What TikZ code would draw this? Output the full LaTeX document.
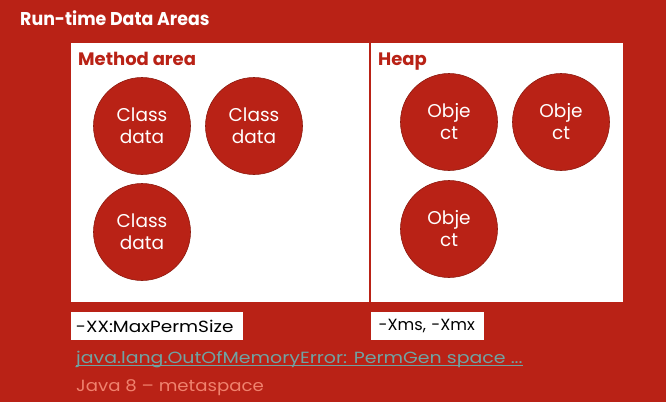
\documentclass[tikz,border=0pt]{standalone}
\usepackage{fontspec}
\setmainfont{Poppins}
\usepackage{tikz}
\definecolor{slidered}{HTML}{B92216}
\definecolor{ringred}{HTML}{8E1B10}
\definecolor{linkgray}{HTML}{6FA3A3}
\definecolor{salmon}{HTML}{F0826E}

\begin{document}
\begin{tikzpicture}[x=1pt, y=-1pt,
  area/.style={fill=white, anchor=north west, inner sep=0},
  blob/.style={circle, fill=slidered, draw=ringred, line width=0.6pt,
    minimum size=97, inner sep=0, text=white, align=center,
    font=\fontsize{18.5}{22}\selectfont},
  heading/.style={anchor=base west, inner sep=0, text=slidered,
    font=\fontsize{18}{22}\selectfont\bfseries},
  flag/.style={fill=white, anchor=north west, minimum height=28,
    inner ysep=0, align=left, font=\fontsize{16.2}{19}\selectfont},
  note/.style={anchor=base west, inner sep=0}]
% slide
\fill[slidered] (0,0) rectangle (666,402);
\useasboundingbox (0,0) rectangle (666,402);
\node[note, text=white, font=\fontsize{18.5}{22}\selectfont\bfseries\addfontfeatures{FakeStretch=0.94}]
      (title) at (20,25) {Run-time Data Areas};
% areas
\node[area, minimum width=298, minimum height=259] (method) at (71,43) {};
\node[area, minimum width=252, minimum height=259] (heap) at (371,43) {};
\node[heading] (methodlbl) at (78,65) {Method area};
\node[heading] (heaplbl) at (378,65) {Heap};
% class data
\node[blob] (cls1) at (142,126) {Class\\data};
\node[blob] (cls2) at (254,126) {Class\\data};
\node[blob] (cls3) at (142,232) {Class\\data};
% objects
\node[blob] (obj1) at (449,122) {Obje\\ct};
\node[blob] (obj2) at (561,122) {Obje\\ct};
\node[blob] (obj3) at (449,229) {Obje\\ct};
% options
\node[flag, text width=162, inner xsep=4.7,
      font=\fontsize{16.2}{19}\selectfont\addfontfeatures{FakeStretch=1.14}]
      (permsize) at (71,312) {-XX:MaxPermSize};
\node[flag, text width=98, inner xsep=7.5] (xms) at (371,312) {-Xms, -Xmx};
\node[note, text=linkgray, font=\fontsize{16.2}{19}\selectfont\addfontfeatures{FakeStretch=1.17}]
      (oom) at (76,363) {java.lang.OutOfMemoryError: PermGen space ...};
\draw[linkgray, line width=0.9pt] ([yshift=-2pt]oom.base west) -- ([yshift=-2pt]oom.base east);
\node[note, text=salmon, font=\fontsize{16.2}{19}\selectfont\addfontfeatures{FakeStretch=1.12}]
      (meta) at (76,391) {Java 8 – metaspace};
\end{tikzpicture}
\end{document}
